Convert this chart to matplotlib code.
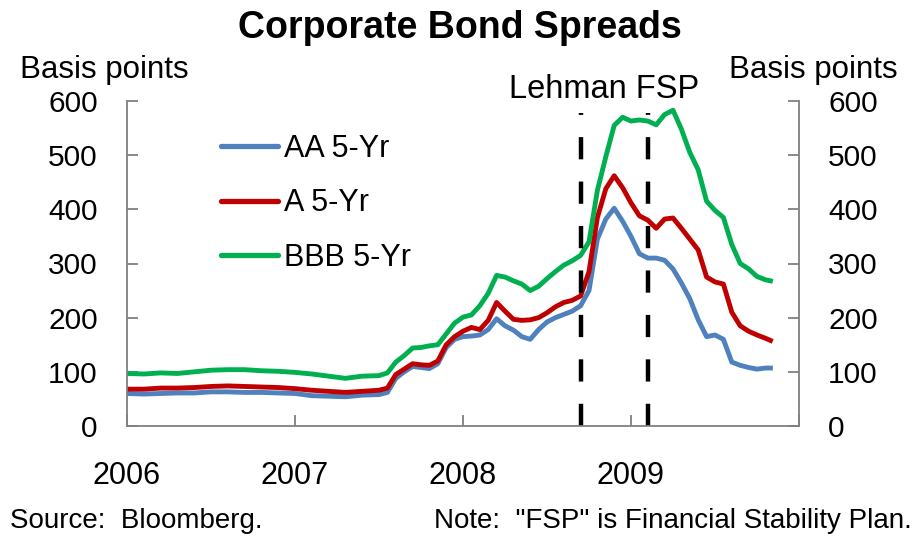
import matplotlib
matplotlib.use("Agg")
import matplotlib.pyplot as plt

plt.rcParams['font.family'] = ['Liberation Sans', 'DejaVu Sans']

# Decimal-year dates
dates = [2006.0, 2006.1, 2006.2, 2006.3, 2006.4, 2006.5, 2006.6, 2006.7, 2006.8, 2006.9,
         2007.0, 2007.1, 2007.2, 2007.3, 2007.4, 2007.5,
         2007.55, 2007.60, 2007.65, 2007.70, 2007.75, 2007.80, 2007.85, 2007.90, 2007.95,
         2008.00, 2008.05, 2008.10, 2008.15, 2008.20, 2008.25, 2008.30, 2008.35, 2008.40,
         2008.45, 2008.50, 2008.55, 2008.60, 2008.65, 2008.70, 2008.75, 2008.80, 2008.85,
         2008.90, 2008.95, 2009.00, 2009.05, 2009.10, 2009.15, 2009.20, 2009.25, 2009.30,
         2009.35, 2009.40, 2009.45, 2009.50, 2009.55, 2009.60, 2009.65, 2009.70, 2009.75,
         2009.80, 2009.83]

aa_5yr = [60, 59, 60, 61, 61, 63, 63, 62, 62, 61,
          60, 56, 55, 54, 57, 58,
          62, 88, 100, 110, 108, 106, 115, 145, 160,
          165, 166, 168, 178, 198, 185, 177, 165, 160,
          178, 192, 200, 206, 212, 222, 250, 345, 382,
          402, 378, 350, 318, 310, 310, 306, 290, 264,
          235, 196, 165, 168, 160, 118, 112, 108, 105,
          107, 107]

a_5yr = [68, 68, 70, 70, 71, 73, 74, 73, 72, 71,
         69, 66, 64, 62, 64, 66,
         70, 95, 105, 115, 113, 112, 120, 150, 165,
         175, 182, 178, 195, 228, 212, 197, 195, 196,
         200, 209, 220, 228, 232, 240, 285, 385, 438,
         462, 440, 412, 388, 380, 365, 382, 384, 365,
         345, 325, 275, 266, 262, 210, 185, 175, 168,
         162, 158]

bbb_5yr = [97, 96, 98, 97, 100, 103, 104, 104, 102, 101,
           99, 96, 92, 88, 92, 93,
           98, 118, 130, 144, 145, 148, 150, 170, 190,
           201, 205, 222, 245, 278, 275, 268, 262, 250,
           258, 272, 285, 297, 305, 315, 340, 435, 497,
           555, 570, 563, 565, 563, 556, 575, 583, 548,
           505, 473, 415, 398, 385, 335, 300, 290, 276,
           270, 268]

series_names = ["AA 5-Yr", "A 5-Yr", "BBB 5-Yr"]
series_colors = ["#4F81BD", "#C00000", "#00B050"]

event_labels = ["Lehman", "FSP"]
event_dates = [2008.70, 2009.10]

year_ticks = [2006, 2007, 2008, 2009, 2010]
year_labels = ["2006", "2007", "2008", "2009", ""]
y_ticks = [0, 100, 200, 300, 400, 500, 600]

W, H = 921, 534
fig = plt.figure(figsize=(W / 100, H / 100), dpi=100)
ax = fig.add_axes([127 / W, (H - 426) / H, (799 - 127) / W, (426 - 101) / H])

for vals, name, col in zip([aa_5yr, a_5yr, bbb_5yr], series_names, series_colors):
    ax.plot(dates, vals, color=col, lw=3.5, label=name, solid_joinstyle='round')

for d in event_dates:
    ax.axvline(d, ymin=0, ymax=578 / 600, color='black', lw=3.2,
               linestyle=(0, (5, 5)), dash_capstyle='butt')

ax.set_xlim(2006, 2010)
ax.set_ylim(0, 600)
ax.set_xticks(year_ticks)
ax.set_xticklabels(year_labels)
ax.set_yticks(y_ticks)

ax.spines['top'].set_visible(False)
for side in ['left', 'right', 'bottom']:
    ax.spines[side].set_color('#808080')
    ax.spines[side].set_linewidth(1.3)

ax.tick_params(axis='x', direction='in', length=8, width=1.3, color='#808080',
               labelsize=22, pad=25)
ax.tick_params(axis='y', direction='in', length=8, width=1.3, color='#808080',
               labelsize=21.5, pad=21, right=True, labelright=True)

leg = ax.legend(loc='upper left', bbox_to_anchor=(221 / W, (H - 134) / H),
                bbox_transform=fig.transFigure, frameon=False, fontsize=22,
                handlelength=1.85, handletextpad=0.2, labelspacing=0.8,
                borderpad=0, borderaxespad=0)
for line in leg.get_lines():
    line.set_linewidth(3.8)
    line.set_solid_capstyle('round')

fig.text(460 / W, 1 - 28 / H, "Corporate Bond Spreads", ha='center', va='center',
         fontsize=27, fontweight='bold')
fig.text(20 / W, 1 - 70 / H, "Basis points", ha='left', va='center', fontsize=22.5)
fig.text(898 / W, 1 - 70 / H, "Basis points", ha='right', va='center', fontsize=22.5)
fig.text(604 / W, 1 - 89 / H, " ".join(event_labels), ha='center', va='center', fontsize=23.5)
fig.text(10 / W, 1 - 521 / H, "Source:  Bloomberg.", ha='left', va='center', fontsize=20)
fig.text(912 / W, 1 - 521 / H, 'Note:  "FSP" is Financial Stability Plan.', ha='right',
         va='center', fontsize=20)

fig.savefig("out.png", dpi=100)
